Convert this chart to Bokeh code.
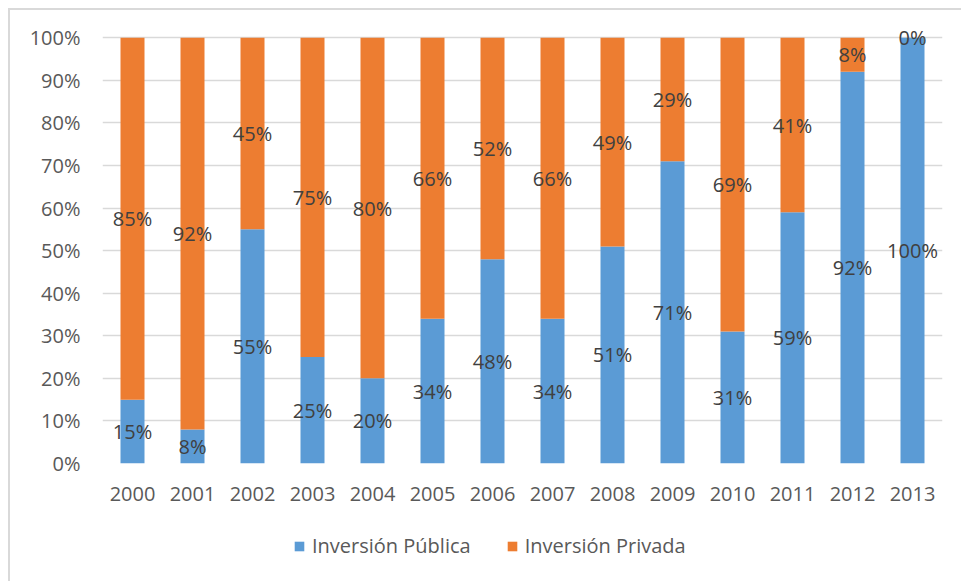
from bokeh.plotting import figure
from bokeh.layouts import column
from bokeh.models import (ColumnDataSource, Legend, LegendItem, NumeralTickFormatter,
                          FixedTicker, Range1d, LabelSet)
from bokeh.core.properties import value
from bokeh.embed import file_html
from bokeh.resources import INLINE

years = ["2000", "2001", "2002", "2003", "2004", "2005", "2006", "2007",
         "2008", "2009", "2010", "2011", "2012", "2013"]
publica = [15, 8, 55, 25, 20, 34, 48, 34, 51, 71, 31, 59, 92, 100]
privada = [85, 92, 45, 75, 80, 66, 52, 66, 49, 29, 69, 41, 8, 0]
series_names = ["Inversión Pública", "Inversión Privada"]

BLUE = "#5B9BD5"
ORANGE = "#ED7D31"
FONT = "Open Sans"
BORDER = "2px solid #d9d9d9"

src = ColumnDataSource(dict(
    years=years,
    publica=[v / 100 for v in publica],
    privada=[v / 100 for v in privada],
))

p = figure(x_range=years, y_range=Range1d(0, 1.05), width=953, height=505,
           output_backend="svg", toolbar_location=None,
           min_border_left=92, min_border_right=21, min_border_top=6, min_border_bottom=52)
p.margin = (8, 0, 0, 8)
p.styles = {"border-top": BORDER, "border-left": BORDER}
p.outline_line_color = None
p.background_fill_color = "white"

rs = p.vbar_stack(["publica", "privada"], x="years", width=0.4, color=[BLUE, ORANGE],
                  line_color=None, source=src)

# data labels at segment centres
lab_src = ColumnDataSource(dict(
    x=years + years,
    y=[v / 200 for v in publica] + [(a + b / 2) / 100 for a, b in zip(publica, privada)],
    t=[f"{v}%" for v in publica] + [f"{v}%" for v in privada],
))
labels = LabelSet(x="x", y="y", text="t", source=lab_src, text_align="center",
                  text_baseline="middle", text_font=value(FONT), text_font_size="20px",
                  text_color="#404040")
p.add_layout(labels)

ticks = [i / 10 for i in range(11)]
p.yaxis.ticker = FixedTicker(ticks=ticks)
p.yaxis.formatter = NumeralTickFormatter(format="0%")
for ax in (p.xaxis, p.yaxis):
    ax.axis_line_color = None
    ax.major_tick_line_color = None
    ax.minor_tick_line_color = None
    ax.major_label_text_font = FONT
    ax.major_label_text_font_size = "20px"
    ax.major_label_text_color = "#595959"
p.yaxis.major_label_standoff = 16
p.xaxis.major_label_standoff = 17

p.xgrid.grid_line_color = None
p.ygrid.grid_line_color = "#d9d9d9"
p.ygrid.grid_line_width = 1.5
p.ygrid.ticker = FixedTicker(ticks=ticks)

# legend strip below the chart
p2 = figure(width=953, height=68, x_range=Range1d(0, 1), y_range=Range1d(0, 1),
            x_axis_type=None, y_axis_type=None, output_backend="svg", toolbar_location=None,
            min_border=0)
p2.margin = (0, 0, 0, 8)
p2.styles = {"border-left": BORDER}
p2.outline_line_color = None
lr = [p2.vbar(x=[0.5], top=[0], bottom=[0], width=0.01, color=c, line_color=None)
      for c in (BLUE, ORANGE)]

legend = Legend(items=[LegendItem(label=series_names[0], renderers=[lr[0]]),
                       LegendItem(label=series_names[1], renderers=[lr[1]])],
                orientation="horizontal", location=(191, 22),
                label_text_font=FONT, label_text_font_size="20px", label_text_color="#595959",
                glyph_width=12, glyph_height=12, label_standoff=7, spacing=35,
                border_line_color=None, background_fill_alpha=0,
                margin=0, padding=0)
p2.add_layout(legend, "center")

layout = column(p, p2, spacing=0)
open("out.html", "w").write(file_html(layout, INLINE))
